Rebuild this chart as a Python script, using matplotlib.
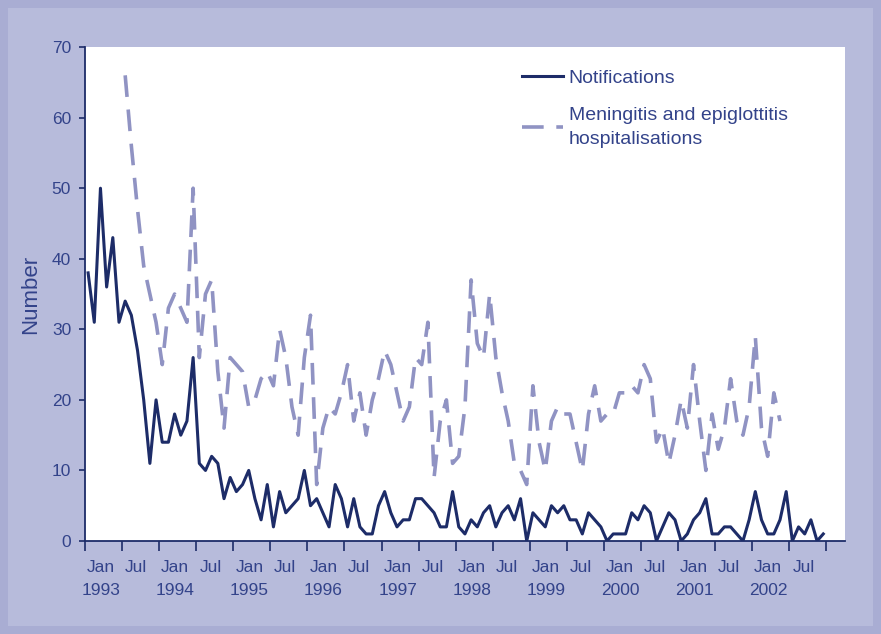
import matplotlib
matplotlib.use('Agg')
from matplotlib import pyplot as plt
from matplotlib.patches import Rectangle
from matplotlib.ticker import FixedLocator, NullFormatter, FixedFormatter

# monthly counts, Jan 1993 onwards (month index 0 = Jan 1993)
notifications = [38, 31, 50, 36, 43, 31, 34, 32, 27, 20, 11, 20,
                 14, 14, 18, 15, 17, 26, 11, 10, 12, 11, 6, 9,
                 7, 8, 10, 6, 3, 8, 2, 7, 4, 5, 6, 10,
                 5, 6, 4, 2, 8, 6, 2, 6, 2, 1, 1, 5,
                 7, 4, 2, 3, 3, 6, 6, 5, 4, 2, 2, 7,
                 2, 1, 3, 2, 4, 5, 2, 4, 5, 3, 6, 0,
                 4, 3, 2, 5, 4, 5, 3, 3, 1, 4, 3, 2,
                 0, 1, 1, 1, 4, 3, 5, 4, 0, 2, 4, 3,
                 0, 1, 3, 4, 6, 1, 1, 2, 2, 1, 0, 3,
                 7, 3, 1, 1, 3, 7, 0, 2, 1, 3, 0, 1]

# hospitalisations start Jul 1993 (month index 6)
hosp_start = 6
hospitalisations = [66, 56, 47, 39, 35, 31,
                    25, 33, 35, 33, 31, 50, 26, 35, 37, 24, 16, 26,
                    25, 24, 19, 20, 23, 24, 22, 30, 26, 19, 15, 26,
                    32, 8, 16, 19, 18, 21, 25, 17, 21, 15, 20, 23,
                    27, 25, 21, 17, 19, 26, 25, 31, 9, 17, 20, 11,
                    12, 19, 37, 28, 26, 35, 26, 21, 17, 11, 10, 8,
                    22, 14, 10, 17, 19, 18, 18, 14, 10, 18, 22, 17,
                    18, 18, 21, 21, 22, 21, 25, 23, 14, 16, 11, 15,
                    20, 16, 25, 17, 10, 18, 13, 16, 23, 17, 15, 19,
                    29, 16, 12, 21, 17]

years = ['1993', '1994', '1995', '1996', '1997', '1998', '1999', '2000', '2001', '2002']

navy = '#1d2c68'
lav = '#9093c3'
txt = '#33438a'

plt.rcParams['font.family'] = ['Liberation Sans', 'DejaVu Sans']

fig = plt.figure(figsize=(8.81, 6.34), dpi=100)
fig.patch.set_facecolor('#a9add3')
fig.patches.append(Rectangle((0.009, 0.012), 0.982, 0.976, transform=fig.transFigure,
                             facecolor='#b7bbdb', edgecolor='none', zorder=-5))

ax = fig.add_axes([0.0965, 0.1467, 0.8625, 0.779])
ax.set_facecolor('white')

x_n = [i + 0.5 for i in range(len(notifications))]
x_h = [hosp_start + i + 0.5 for i in range(len(hospitalisations))]

ax.plot(x_n, notifications, color=navy, lw=2.2, label='Notifications', zorder=3)
ax.plot(x_h, hospitalisations, color=lav, lw=2.6, dashes=(6, 3.5),
        label='Meningitis and epiglottitis\nhospitalisations', zorder=2)

ax.set_xlim(0, 123)
ax.set_ylim(0, 70)

for s in ['top', 'right']:
    ax.spines[s].set_visible(False)
for s in ['left', 'bottom']:
    ax.spines[s].set_color(navy)
    ax.spines[s].set_linewidth(1.3)

ax.set_yticks(range(0, 71, 10))
ax.tick_params(axis='y', colors=navy, labelcolor=txt, labelsize=12.5, length=4, width=1.2, pad=6)

ax.xaxis.set_major_locator(FixedLocator(list(range(0, 121, 6))))
ax.xaxis.set_major_formatter(NullFormatter())
ax.tick_params(axis='x', which='major', colors=navy, length=7, width=1.2, direction='out')

minor_pos = []
minor_lab = []
for k, yr in enumerate(years):
    minor_pos.append(12 * k + 2.6)
    minor_lab.append('Jan\n' + yr)
    minor_pos.append(12 * k + 8.3)
    minor_lab.append('Jul')
ax.xaxis.set_minor_locator(FixedLocator(minor_pos))
ax.xaxis.set_minor_formatter(FixedFormatter(minor_lab))
ax.tick_params(axis='x', which='minor', length=0, labelsize=12.5, labelcolor=txt, pad=14)
for lab in ax.xaxis.get_minorticklabels():
    lab.set_linespacing(1.6)

ax.set_ylabel('Number', fontsize=16, color=txt, labelpad=8)

leg = ax.legend(loc='upper left', bbox_to_anchor=(0.552, 0.99), frameon=False,
                fontsize=14, handlelength=2.1, handletextpad=0.3, labelspacing=1.0,
                labelcolor=txt)
for t in leg.get_texts():
    t.set_linespacing(1.6)

plt.savefig('out.png', dpi=100, facecolor=fig.get_facecolor())
plt.close()
